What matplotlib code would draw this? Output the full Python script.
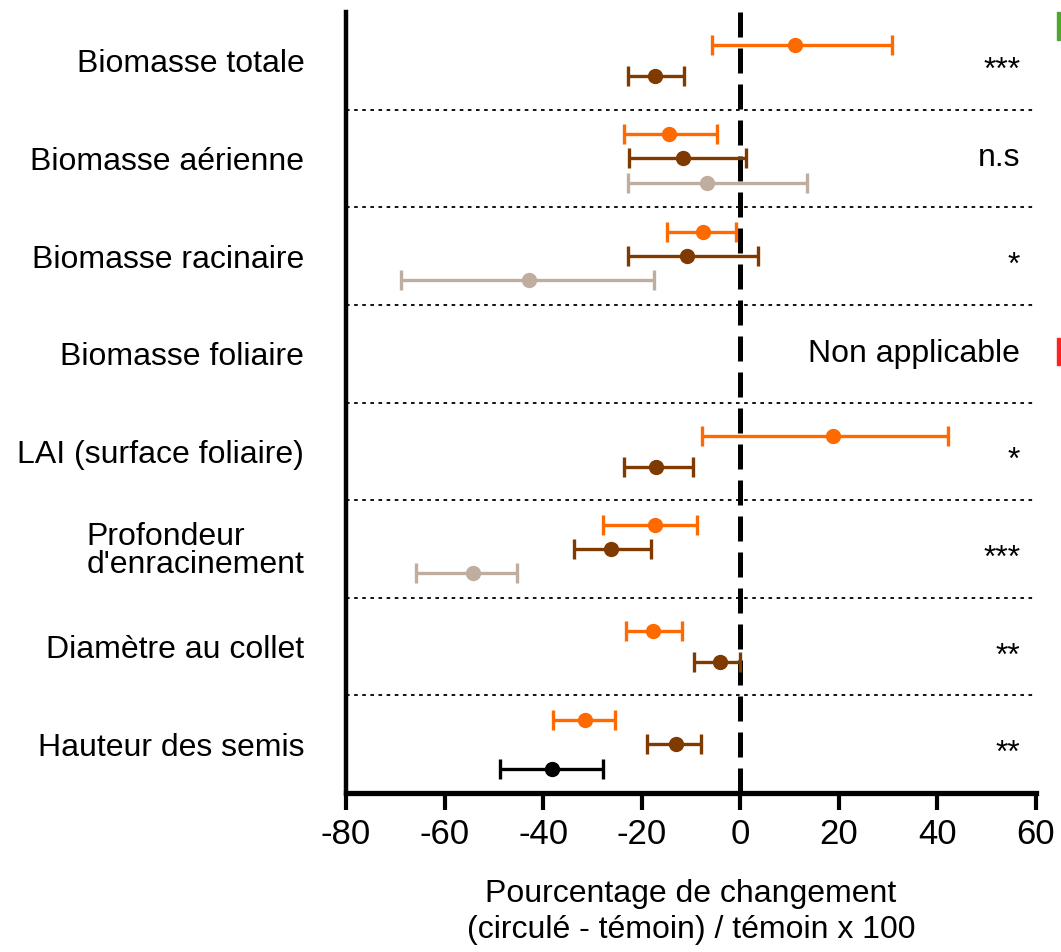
import numpy as np
import matplotlib.pyplot as plt
import matplotlib.transforms as mtransforms
from matplotlib.patches import Rectangle

plt.rcParams['font.family'] = ['Liberation Sans Narrow', 'Liberation Sans', 'DejaVu Sans']
plt.rcParams['axes.unicode_minus'] = False

# catégories (de haut en bas)
categories = ["Biomasse totale", "Biomasse aérienne", "Biomasse racinaire",
              "Biomasse foliaire", "LAI (surface foliaire)",
              "Profondeur\nd'enracinement", "Diamètre au collet",
              "Hauteur des semis"]
signif = ["***", "n.s", "*", "Non applicable", "*", "***", "**", "**"]

nan = np.nan
# moyenne, borne basse, borne haute
orange_mean = [11.2, -14.4, -7.5, nan, 18.9, -17.4, -17.8, -31.6]
orange_low = [-5.7, -23.5, -14.8, nan, -7.7, -27.8, -23.1, -37.9]
orange_high = [30.8, -4.7, -0.8, nan, 42.2, -8.7, -11.8, -25.4]

brown_mean = [-17.2, -11.6, -10.8, nan, -17.0, -26.2, -4.1, -13.0]
brown_low = [-22.7, -22.5, -22.7, nan, -23.5, -33.7, -9.3, -18.9]
brown_high = [-11.4, 1.2, 3.7, nan, -9.5, -18.1, 0.0, -7.9]

grey_mean = [nan, -6.7, -42.8, nan, nan, -54.2, nan, nan]
grey_low = [nan, -22.7, -68.8, nan, nan, -65.7, nan, nan]
grey_high = [nan, 13.6, -17.6, nan, nan, -45.4, nan, nan]

black_mean = [nan, nan, nan, nan, nan, nan, nan, -38.1]
black_low = [nan, nan, nan, nan, nan, nan, nan, -48.7]
black_high = [nan, nan, nan, nan, nan, nan, nan, -27.8]

series = [
    (orange_mean, orange_low, orange_high, "#ff6a00"),
    (brown_mean, brown_low, brown_high, "#7f3a00"),
    (grey_mean, grey_low, grey_high, "#bfae9f"),
    (black_mean, black_low, black_high, "#000000"),
]

fig = plt.figure(figsize=(10.61, 9.52), dpi=100)
ax = fig.add_axes([0.3261, 0.167, 0.6503, 0.8204])

n = len(categories)
centers = np.arange(n) + 0.5

# positions verticales selon le nombre de séries présentes
offsets = {1: [0.0], 2: [-0.16, 0.16], 3: [-0.25, 0.0, 0.25]}
for i in range(n):
    present = [s for s in series if not np.isnan(s[0][i])]
    for k, (m, lo, hi, col) in enumerate(present):
        y = centers[i] + offsets[len(present)][k]
        ax.errorbar([m[i]], [y], xerr=[[m[i] - lo[i]], [hi[i] - m[i]]],
                    fmt="o", color=col, ms=10, elinewidth=2.4,
                    capsize=7.5, capthick=2.4, zorder=3)

# séparateurs pointillés
for b in range(1, n):
    ax.axhline(b, color="black", lw=1.3, ls=(0, (2, 2.5)), zorder=1)

ax.axvline(0, color="black", lw=3.6, ls=(0, (5, 2.2)), zorder=2)

# les astérisques sont dessinés en haut de la ligne : on les descend un peu
star_shift = mtransforms.ScaledTranslation(0, -10 / 100, fig.dpi_scale_trans)
for i, txt in enumerate(signif):
    tr = ax.transData
    if set(txt) == {"*"}:
        tr = tr + star_shift
    ax.text(56.8, centers[i], txt, ha="right", va="center", fontsize=23,
            transform=tr)

ax.set_xlim(-80, 60)
ax.set_ylim(n, 0)
ax.set_xticks(np.arange(-80, 61, 20))
ax.tick_params(axis="x", labelsize=25, length=12, width=3, pad=6)
ax.set_yticks(centers)
ax.set_yticklabels(categories, fontsize=23, linespacing=0.9)
ax.tick_params(axis="y", length=0, pad=30)
for lab in ax.get_yticklabels():
    lab.set_multialignment("left")

ax.spines["top"].set_visible(False)
ax.spines["right"].set_visible(False)
ax.spines["left"].set_linewidth(3.2)
ax.spines["bottom"].set_linewidth(3.8)

ax.set_xlabel("Pourcentage de changement\n(circulé - témoin) / témoin x 100",
              fontsize=23, labelpad=20, linespacing=1.25)

# fragments de légende coupés au bord droit
fig.patches.append(Rectangle((1057 / 1061, 1 - 40 / 952), 3 / 1061, 28 / 952,
                             transform=fig.transFigure, color="#4aa82a"))
fig.patches.append(Rectangle((1057 / 1061, 1 - 365 / 952), 3 / 1061, 27 / 952,
                             transform=fig.transFigure, color="#ff2020"))

fig.savefig("out.png", dpi=100)
